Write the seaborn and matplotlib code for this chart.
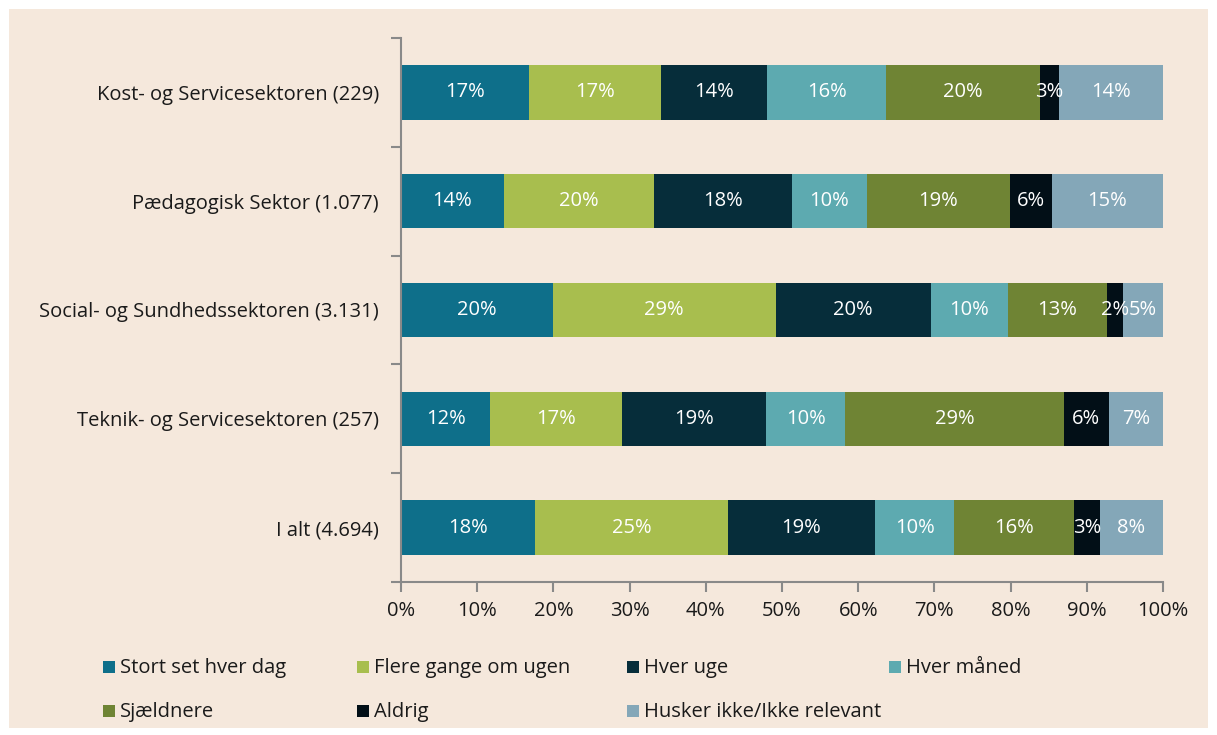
import numpy as np
import pandas as pd
import matplotlib
matplotlib.use("Agg")
import matplotlib.pyplot as plt
from matplotlib.patches import Rectangle
import seaborn as sns

# Data (shares in %)
categories = ['Kost- og Servicesektoren (229)', 'Pædagogisk Sektor (1.077)',
              'Social- og Sundhedssektoren (3.131)', 'Teknik- og Servicesektoren (257)',
              'I alt (4.694)']
series = ['Stort set hver dag', 'Flere gange om ugen', 'Hver uge', 'Hver måned',
          'Sjældnere', 'Aldrig', 'Husker ikke/Ikke relevant']
stort_set = [16.8, 13.5, 19.9, 11.7, 17.6]
flere_gange = [17.3, 19.7, 29.3, 17.3, 25.3]
hver_uge = [13.9, 18.1, 20.3, 18.9, 19.3]
hver_maaned = [15.7, 9.8, 10.2, 10.4, 10.4]
sjaeldnere = [20.1, 18.8, 12.9, 28.7, 15.7]
aldrig = [2.6, 5.5, 2.2, 5.9, 3.4]
husker_ikke = [13.6, 14.6, 5.2, 7.1, 8.3]
colors = ['#0E6F8A', '#A8BE4E', '#062D3A', '#5DAAB0', '#6F8434', '#020F17', '#84A7B8']

values = np.array([stort_set, flere_gange, hver_uge, hver_maaned,
                   sjaeldnere, aldrig, husker_ikke])
cum = values.cumsum(axis=0)

bg = '#F5E8DC'
grey = '#898989'
fs = 14.5

sns.set_theme(style='white')
plt.rcParams['font.family'] = ['Open Sans', 'DejaVu Sans']

fig = plt.figure(figsize=(12.17, 7.35), dpi=100, facecolor='white')
fig.patches.append(Rectangle((9 / 1217, 7 / 735), 1199 / 1217, 719 / 735,
                             transform=fig.transFigure, facecolor=bg,
                             edgecolor='none', zorder=-10))
ax = fig.add_axes([401 / 1217, 1 - 582 / 735, 762 / 1217, 544 / 735])
ax.set_facecolor(bg)

# stacked bars: draw cumulative totals from the last series back to the first
for i in range(len(series) - 1, -1, -1):
    df = pd.DataFrame({'cat': categories, 'val': cum[i]})
    sns.barplot(data=df, x='val', y='cat', orient='h', color=colors[i],
                width=0.5, saturation=1, ax=ax, linewidth=0)

for i in range(len(series)):
    for j in range(len(categories)):
        ax.text(cum[i, j] - values[i, j] / 2, j, f'{values[i, j]:.0f}%',
                ha='center', va='center', color='white', fontsize=fs)

ax.set_xlim(0, 100)
ax.set_ylim(4.5, -0.5)
ax.set_xticks(np.arange(0, 101, 10))
ax.set_xticklabels([f'{t}%' for t in range(0, 101, 10)])
ax.set_yticks(range(len(categories)))
ax.set_yticks(np.arange(-0.5, 5, 1), minor=True)
ax.set_xlabel('')
ax.set_ylabel('')
for s in ['top', 'right']:
    ax.spines[s].set_visible(False)
for s in ['left', 'bottom']:
    ax.spines[s].set_color(grey)
    ax.spines[s].set_linewidth(1.5)
ax.tick_params(axis='x', which='major', length=7, width=1.5, color=grey,
               direction='out', labelsize=fs, labelcolor='#1a1a1a', pad=7,
               bottom=True)
ax.tick_params(axis='y', which='major', length=0, labelsize=fs,
               labelcolor='#1a1a1a', pad=16)
ax.tick_params(axis='y', which='minor', length=7, width=1.5, color=grey,
               direction='out', left=True)

# legend: 4 columns, 2 rows
col_x = [103, 357, 627, 889]
row_y = [667, 711]
for i, name in enumerate(series):
    x = col_x[i % 4]
    y = row_y[i // 4]
    fig.patches.append(Rectangle((x / 1217, 1 - (y + 6) / 735), 12 / 1217, 12 / 735,
                                 transform=fig.transFigure, facecolor=colors[i],
                                 edgecolor='none'))
    fig.text((x + 17) / 1217, 1 - (y + 1) / 735, name, ha='left', va='center',
             fontsize=fs, color='#1a1a1a')

fig.savefig('out.png', dpi=100, facecolor='white')
